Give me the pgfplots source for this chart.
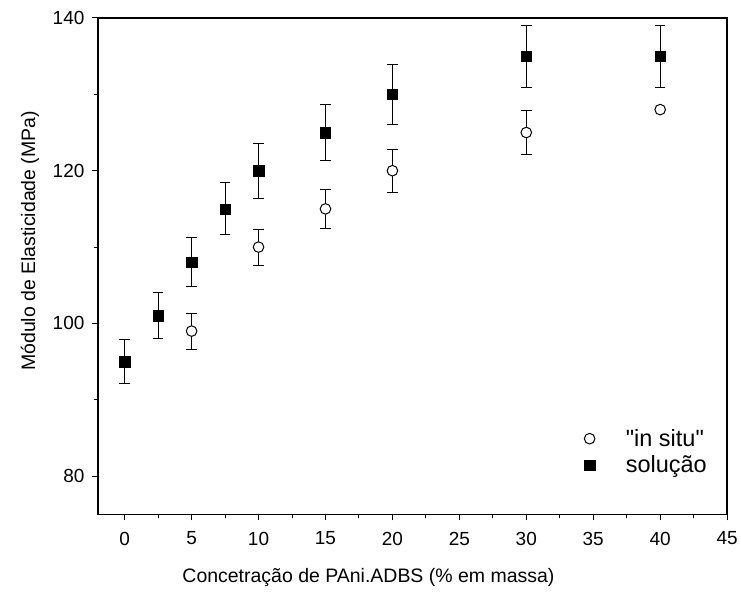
\documentclass[border=0pt]{standalone}
\usepackage{fontspec}
\setmainfont{Liberation Sans}
\usepackage{pgfplots}
\pgfplotsset{compat=1.18}
\begin{document}
\begin{tikzpicture}
\begin{axis}[name=ax, scale only axis, width=630pt, height=497pt,
  xmin=-2, xmax=45, ymin=75, ymax=140,
  xtick={0,5,...,45}, minor x tick num=1,
  ytick={80,100,120,140}, minor y tick num=1,
  tick align=outside, xtick pos=bottom, ytick pos=left,
  major tick length=6pt, minor tick length=4pt,
  axis line style={line width=1.6pt},
  every tick/.style={black, line width=1pt},
  /pgf/number format/assume math mode=true,
  ticklabel style={font=\fontsize{19}{22}\selectfont},
  xticklabel style={yshift=-8pt},
  yticklabel style={xshift=-4pt},
  xlabel={Concetração de PAni.ADBS (\% em massa)},
  ylabel={Módulo de Elasticidade (MPa)},
  every axis x label/.style={at={(axis description cs:0.43,-0.127)}, anchor=center, font=\fontsize{19.5}{22}\selectfont},
  every axis y label/.style={at={(axis description cs:-0.108,0.551)}, rotate=90, anchor=center, font=\fontsize{19.5}{22}\selectfont},
  legend style={draw=none, fill=none, at={(0.768,0.072)}, anchor=south west, font=\fontsize{23.5}{25}\selectfont, row sep=4pt,
    /tikz/every odd column/.append style={column sep=29pt}},
  legend cell align=left,
]
\addplot[only marks, mark=*, mark size=5.3pt, black, mark options={fill=white, line width=1pt},
  error bars/.cd, y dir=both, y explicit, error bar style={line width=1pt, black},
  error mark options={rotate=90, mark size=5.3pt, line width=1pt, black}]
  coordinates {
  (5,99) +- (0,2.35)
  (10,110) +- (0,2.35)
  (15,115) +- (0,2.6)
  (20,120) +- (0,2.8)
  (30,125) +- (0,2.9)
  (40,128) +- (0,0)
  };
\addlegendentry{\textquotedbl in situ\textquotedbl}
\addplot[only marks, mark=square*, mark size=5.2pt, black, mark options={fill=black},
  error bars/.cd, y dir=both, y explicit, error bar style={line width=1pt, black},
  error mark options={rotate=90, mark size=5.3pt, line width=1pt, black}]
  coordinates {
  (0,95) +- (0,2.9)
  (2.5,101) +- (0,3.0)
  (5,108) +- (0,3.2)
  (7.5,115) +- (0,3.4)
  (10,120) +- (0,3.6)
  (15,125) +- (0,3.7)
  (20,130) +- (0,3.9)
  (30,135) +- (0,4.05)
  (40,135) +- (0,4.05)
  };
\addlegendentry{solução}
\end{axis}
\path ([xshift=-98pt,yshift=-77pt]ax.south west) rectangle ([xshift=13pt,yshift=18pt]ax.north east);
\end{tikzpicture}
\end{document}
